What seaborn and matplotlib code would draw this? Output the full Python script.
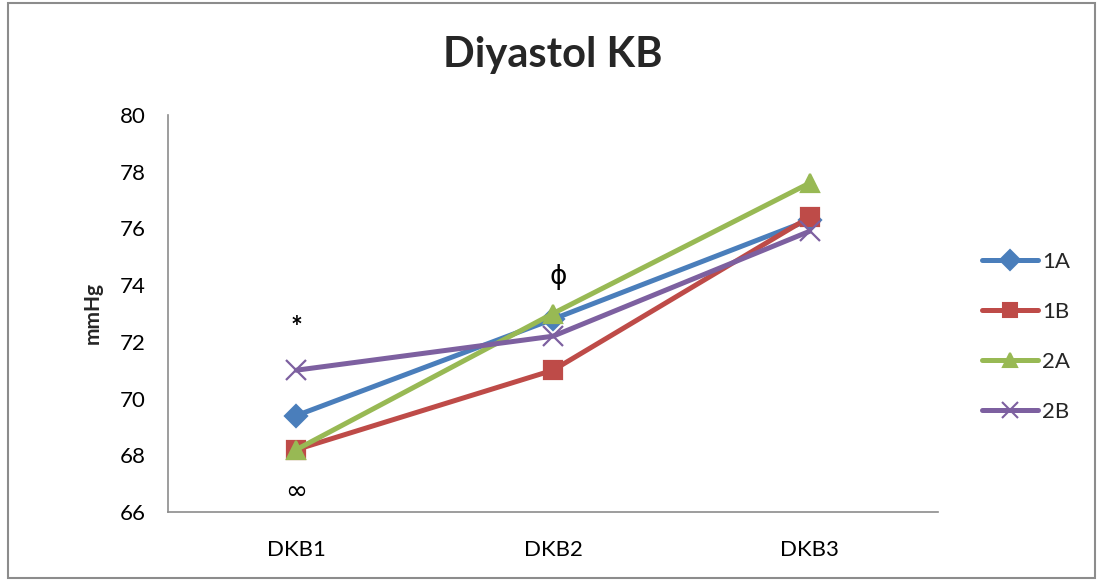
import matplotlib
matplotlib.use("Agg")
import matplotlib.pyplot as plt
import seaborn as sns
import pandas as pd
from matplotlib.patches import Rectangle
from matplotlib.lines import Line2D

# Category labels and measured diastolic values per group
categories = ["DKB1", "DKB2", "DKB3"]
groups = ["1A", "1B", "2A", "2B"]
values_1A = [69.4, 72.8, 76.3]
values_1B = [68.2, 71.0, 76.4]
values_2A = [68.2, 73.0, 77.6]
values_2B = [71.0, 72.2, 75.9]
y_ticks = [66, 68, 70, 72, 74, 76, 78, 80]

# Significance symbols placed above/below points
note_labels = ["*", "ϕ", "∞"]
note_x = ["DKB1", "DKB2", "DKB1"]
note_y = [72.5, 74.3, 66.7]

series = {"1A": values_1A, "1B": values_1B, "2A": values_2A, "2B": values_2B}
rows = []
for g in groups:
    for i, c in enumerate(categories):
        rows.append({"pos": i, "cat": c, "group": g, "value": series[g][i]})
df = pd.DataFrame(rows)

sns.set_theme(style="white")
plt.rcParams["font.family"] = ["Lato", "DejaVu Sans"]

palette = {"1A": "#4A7EBB", "1B": "#BE4B48", "2A": "#98B954", "2B": "#7D60A0"}
markers = {"1A": "D", "1B": "s", "2A": "^", "2B": "x"}
msizes = {"1A": 11.5, "1B": 13, "2A": 13, "2B": 15}

fig = plt.figure(figsize=(10.97, 5.81), dpi=100)
ax = fig.add_axes([168 / 1097, 1 - 512 / 581, (938 - 168) / 1097, (512 - 115) / 581])

for g in groups:
    sub = df[df["group"] == g]
    sns.lineplot(data=sub, x="pos", y="value", color=palette[g],
                 marker=markers[g], linewidth=3.6, markersize=msizes[g],
                 markeredgewidth=1.6, markeredgecolor=palette[g],
                 ax=ax, legend=False)

ax.set_xlim(-0.5, 2.5)
ax.set_ylim(66, 80)
ax.set_xticks(range(len(categories)))
ax.set_xticklabels(categories)
ax.set_yticks(y_ticks)
ax.tick_params(axis="both", length=0, labelsize=16, colors="black")
ax.tick_params(axis="x", pad=20)
ax.tick_params(axis="y", pad=16)
ax.set_xlabel("")
ax.set_ylabel("mmHg", fontsize=15, fontweight="bold", labelpad=12)
for s in ["top", "right"]:
    ax.spines[s].set_visible(False)
for s in ["left", "bottom"]:
    ax.spines[s].set_color("#8c8c8c")
    ax.spines[s].set_linewidth(1.2)

ax.text(categories.index(note_x[0]), note_y[0], note_labels[0], ha="center",
        va="center", fontsize=20, fontweight="bold", color="black")
ax.text(categories.index(note_x[1]) + 0.02, note_y[1], note_labels[1],
        ha="center", va="center", fontsize=19, color="black",
        family=["DejaVu Sans"])
ax.text(categories.index(note_x[2]), note_y[2], note_labels[2], ha="center",
        va="center", fontsize=19, color="black", family=["DejaVu Sans"])

fig.text(553 / 1097, 1 - 55 / 581, "Diyastol KB", ha="center", va="center",
         fontsize=30, fontweight="bold")

# Legend drawn with line-and-marker samples
handles = [Line2D([0], [0], color=palette[g], marker=markers[g], lw=3.6,
                  markersize=10 if g != "2B" else 12, markeredgewidth=1.5,
                  markeredgecolor=palette[g])
           for g in groups]
fig.legend(handles, groups, loc="center left",
           bbox_to_anchor=(962 / 1097, 1 - 337 / 581), frameon=False,
           fontsize=16, handlelength=2.5, handletextpad=0.2,
           labelspacing=1.35)

fig.add_artist(Rectangle((8 / 1097, 1 - 578 / 581), (1095 - 8) / 1097,
                         (578 - 3) / 581, transform=fig.transFigure,
                         fill=False, edgecolor="#8c8c8c", linewidth=1.5))

fig.savefig("out.png", dpi=100)
